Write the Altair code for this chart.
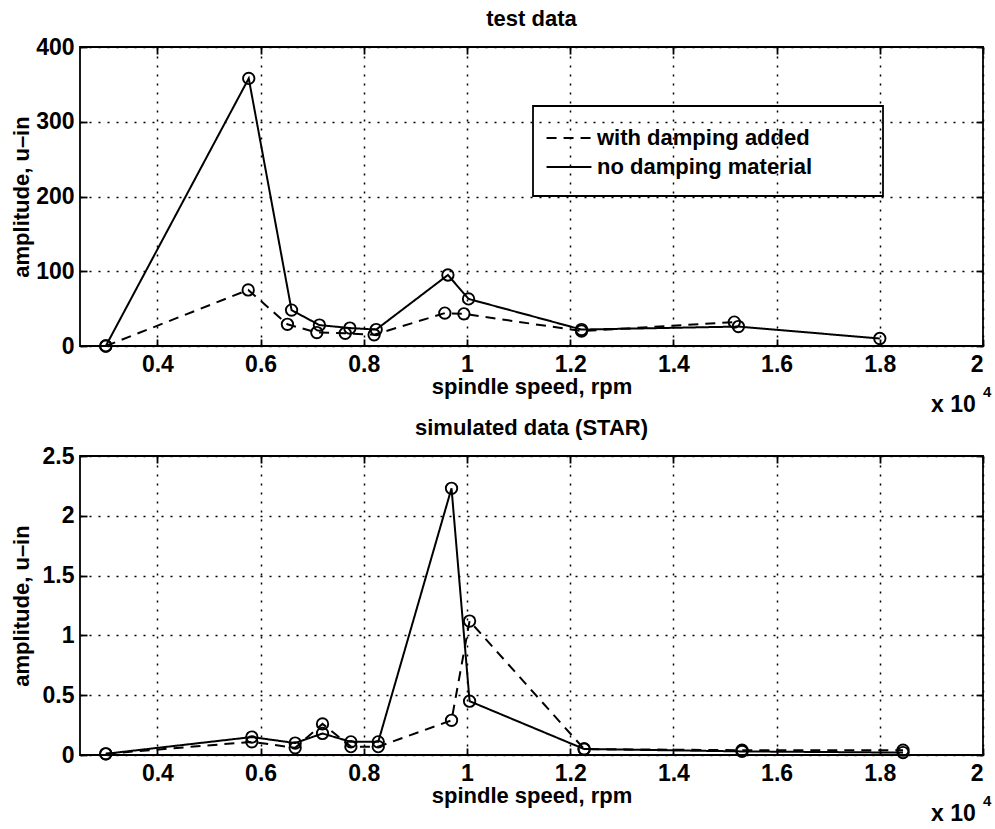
import altair as alt
import pandas as pd

FONT = "Liberation Sans"

series_names = ["with damping added", "no damping material"]

# speeds in units of 10^4 rpm, amplitudes in u-in
test_nodamp_speed = [0.30, 0.577, 0.660, 0.714, 0.773, 0.824, 0.963, 1.003, 1.222, 1.526, 1.80]
test_nodamp_amp = [0, 358, 48, 28, 24, 22, 95, 63, 22, 26, 10]
test_damp_speed = [0.30, 0.576, 0.652, 0.709, 0.764, 0.820, 0.957, 0.994, 1.222, 1.518]
test_damp_amp = [0, 75, 29, 18, 17, 15, 44, 43, 20, 32]

sim_speed = [0.30, 0.583, 0.667, 0.720, 0.775, 0.828, 0.970, 1.005, 1.227, 1.533, 1.845]
sim_nodamp_amp = [0.01, 0.15, 0.10, 0.18, 0.11, 0.11, 2.23, 0.45, 0.05, 0.03, 0.02]
sim_damp_amp = [0.01, 0.11, 0.06, 0.26, 0.07, 0.07, 0.29, 1.12, 0.05, 0.04, 0.04]

x_ticks = [0.4, 0.6, 0.8, 1.0, 1.2, 1.4, 1.6, 1.8, 2.0]
x_domain = [0.25, 2.0]
top_y_ticks = [0, 100, 200, 300, 400]
top_y_domain = [0, 400]
bot_y_ticks = [0, 0.5, 1, 1.5, 2, 2.5]
bot_y_domain = [0, 2.5]

W, H = 903, 299


def frame(speeds, amps, name):
    return pd.DataFrame({"speed": speeds, "amp": amps, "series": name})


test_df = pd.concat([frame(test_damp_speed, test_damp_amp, series_names[0]),
                     frame(test_nodamp_speed, test_nodamp_amp, series_names[1])])
sim_df = pd.concat([frame(sim_speed, sim_damp_amp, series_names[0]),
                    frame(sim_speed, sim_nodamp_amp, series_names[1])])
dummy = pd.DataFrame({"k": [0]})


def panel(df, y_ticks, y_domain, title, with_legend):
    x_bottom = alt.X("speed:Q",
                     scale=alt.Scale(domain=x_domain, nice=False, zero=False),
                     axis=alt.Axis(values=x_ticks, format="~r", orient="bottom", offset=-7,
                                   tickSize=7, domain=False, grid=True, labelPadding=7,
                                   title="spindle speed, rpm", titlePadding=0))
    y_left = alt.Y("amp:Q",
                   scale=alt.Scale(domain=y_domain, nice=False, zero=False),
                   axis=alt.Axis(values=y_ticks, format="~r", orient="left", offset=-7,
                                 tickSize=7, domain=False, grid=True, labelPadding=6,
                                 title="amplitude, u–in", titleX=-66, titleY=H / 2,
                                 titleBaseline="middle", titleAlign="center"))
    if with_legend:
        legend = alt.Legend(orient="none", legendX=471, legendY=73, title=None,
                            symbolType="M-1.32,0H1.32", symbolSize=1156, symbolStrokeWidth=2,
                            symbolStrokeColor="black", symbolFillColor="transparent",
                            labelFont=FONT, labelFontSize=22,
                            labelFontWeight="bold", labelLimit=0,
                            labelColor="black", labelOffset=10, rowPadding=0, padding=0)
    else:
        legend = None
    dash = alt.StrokeDash("series:N",
                          scale=alt.Scale(domain=series_names, range=[[10, 7], [1, 0]]),
                          legend=legend)
    lines = alt.Chart(df).mark_line(color="black", strokeWidth=2).encode(
        x=x_bottom, y=y_left, strokeDash=dash)

    x_top = alt.X("speed:Q",
                  axis=alt.Axis(values=x_ticks, orient="top", offset=-7, tickSize=7,
                                domain=False, grid=False, labels=False, title=None))
    y_right = alt.Y("amp:Q",
                    axis=alt.Axis(values=y_ticks, orient="right", offset=-7, tickSize=7,
                                  domain=False, grid=False, labels=False, title=None))
    points = alt.Chart(df).mark_point(shape="circle", filled=False, color="black",
                                      size=130, strokeWidth=1.9, opacity=1).encode(
        x=x_top, y=y_right)

    exp_a = alt.Chart(dummy).mark_text(text="x 10", align="left", baseline="middle",
                                       font=FONT, fontSize=23, fontWeight="bold",
                                       color="black").encode(
        x=alt.value(851), y=alt.value(H + 59))
    exp_b = alt.Chart(dummy).mark_text(text="4", align="left", baseline="middle",
                                       font=FONT, fontSize=15, fontWeight="bold",
                                       color="black").encode(
        x=alt.value(903), y=alt.value(H + 46))

    layers = [lines, points, exp_a, exp_b]
    if with_legend:
        box = alt.Chart(dummy).mark_rect(fillOpacity=0, stroke="black", strokeWidth=1.8).encode(
            x=alt.value(453), x2=alt.value(803), y=alt.value(59), y2=alt.value(149))
        layers.append(box)

    return alt.layer(*layers).resolve_axis(x="independent", y="independent").properties(
        width=W, height=H,
        title=alt.TitleParams(title, font=FONT, fontSize=22, fontWeight="bold",
                              color="black", frame="group", anchor="middle", offset=5))


top = panel(test_df, top_y_ticks, top_y_domain, "test data", True)
bottom = panel(sim_df, bot_y_ticks, bot_y_domain, "simulated data (STAR)", False)

chart = alt.vconcat(top, bottom, spacing=-2).resolve_legend(
    strokeDash="independent"
).configure(
    padding={"left": 9, "top": 7, "right": 0, "bottom": 0},
    background="white",
).configure_view(
    stroke="black", strokeWidth=1.8
).configure_axis(
    labelFont=FONT, labelFontSize=23, labelFontWeight="bold", labelColor="black",
    titleFont=FONT, titleFontSize=22, titleColor="black", titleFontWeight="bold",
    tickColor="black", tickWidth=1.8,
    gridColor="black", gridOpacity=1, gridDash=[2, 7], gridWidth=1.5,
)

chart.save("out.html", embed_options={"renderer": "svg", "actions": False})
